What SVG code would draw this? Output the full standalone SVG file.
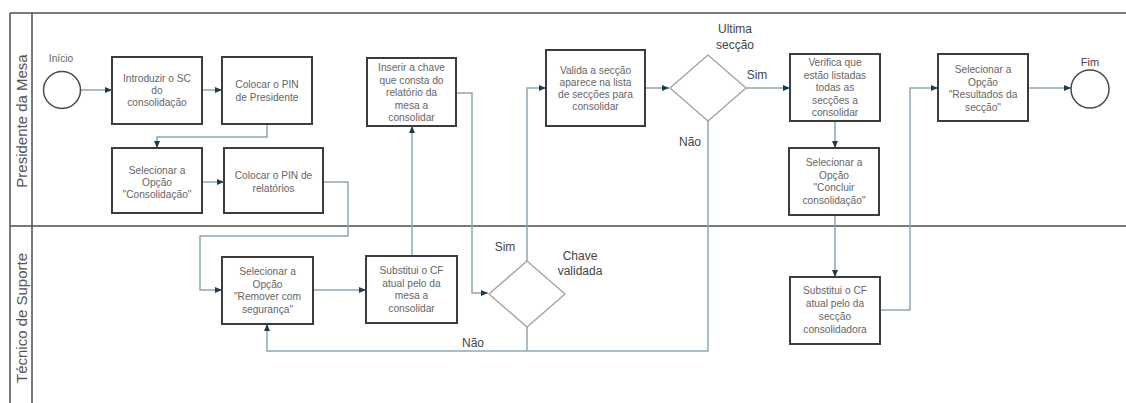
<svg xmlns="http://www.w3.org/2000/svg" width="1126" height="403" viewBox="0 0 1126 403">
  <style>
    .lane { stroke: #505050; stroke-width: 1.5; fill: none; }
    .lanelbl { font-family: "Liberation Sans", Arial, sans-serif; font-size: 15px; fill: #555; text-anchor: middle; }
    .task { fill: #fff; stroke: #3c3c3c; stroke-width: 2; }
    .gw { fill: #fff; stroke: #a8a8a8; stroke-width: 1.5; }
    .ev { fill: #fff; stroke: #4a4a4a; stroke-width: 1.5; }
    .tt { font-family: "Liberation Sans", Arial, sans-serif; font-size: 10.2px; fill: #666; text-anchor: middle; }
    .lbl { font-family: "Liberation Sans", Arial, sans-serif; font-size: 12px; fill: #444; text-anchor: middle; }
    .flow { fill: none; stroke: #8fa6b4; stroke-width: 1.5; }
  </style>
  <defs>
    <marker id="arr" markerUnits="userSpaceOnUse" markerWidth="8" markerHeight="8" refX="7" refY="3.5" orient="auto">
      <path d="M0,0.5 L7,3.5 L0,6.5 z" fill="#1d3b4f"/>
    </marker>
  </defs>

  <rect width="1126" height="403" fill="#fff"/>

  <!-- pool and lanes -->
  <g id="lanes">
    <path class="lane" d="M10,13 H1126 M10,13 V403 M32,13 V403 M10,226 H1126"/>
    <text class="lanelbl" transform="translate(27,121) rotate(-90)">Presidente da Mesa</text>
    <text class="lanelbl" transform="translate(27,318) rotate(-90)">Técnico de Suporte</text>
  </g>

  <!-- sequence flows -->
  <g id="connectors">
    <path class="flow" marker-end="url(#arr)" d="M80,90 H112"/>
    <path class="flow" marker-end="url(#arr)" d="M202,90 H222"/>
    <path class="flow" marker-end="url(#arr)" d="M267,124 V137 H157 V148"/>
    <path class="flow" marker-end="url(#arr)" d="M202,182 H224"/>
    <path class="flow" marker-end="url(#arr)" d="M323,182 H348 V236 H200 V290 H222"/>
    <path class="flow" marker-end="url(#arr)" d="M313,290 H366"/>
    <path class="flow" marker-end="url(#arr)" d="M412,256 V126"/>
    <path class="flow" marker-end="url(#arr)" d="M456,93 H472 V293 H488"/>
    <path class="flow" marker-end="url(#arr)" d="M527,261 V88 H546"/>
    <path class="flow" marker-end="url(#arr)" d="M645,88 H669"/>
    <path class="flow" marker-end="url(#arr)" d="M708,121 V351 H267 V324"/>
    <path class="flow" d="M527,327 V351"/>
    <path class="flow" marker-end="url(#arr)" d="M746,88 H790"/>
    <path class="flow" marker-end="url(#arr)" d="M835,121 V148"/>
    <path class="flow" marker-end="url(#arr)" d="M835,215 V277"/>
    <path class="flow" marker-end="url(#arr)" d="M880,310 H910 V88 H938"/>
    <path class="flow" marker-end="url(#arr)" d="M1028,88 H1071"/>
  </g>

  <g id="start">
    <circle class="ev" cx="62" cy="90" r="18.5"/>
    <text class="tt" x="61" y="62">Início</text>
  </g>

  <g id="t-introduzir">
    <rect class="task" x="112" y="57" width="90" height="67"/>
    <text class="tt"><tspan x="157" y="82">Introduzir o SC</tspan><tspan x="157" y="94">do</tspan><tspan x="157" y="106">consolidação</tspan></text>
  </g>

  <g id="t-pin-presidente">
    <rect class="task" x="222" y="57" width="90" height="67"/>
    <text class="tt"><tspan x="267" y="88">Colocar o PIN</tspan><tspan x="267" y="101">de Presidente</tspan></text>
  </g>

  <g id="t-consolidacao">
    <rect class="task" x="112" y="148" width="90" height="65"/>
    <text class="tt"><tspan x="157" y="174">Selecionar a</tspan><tspan x="157" y="186">Opção</tspan><tspan x="157" y="198">"Consolidação"</tspan></text>
  </g>

  <g id="t-pin-relatorios">
    <rect class="task" x="224" y="148" width="99" height="65"/>
    <text class="tt"><tspan x="273.5" y="179">Colocar o PIN de</tspan><tspan x="273.5" y="192">relatórios</tspan></text>
  </g>

  <g id="t-remover">
    <rect class="task" x="222" y="257" width="91" height="67"/>
    <text class="tt"><tspan x="267.5" y="275">Selecionar a</tspan><tspan x="267.5" y="287.5">Opção</tspan><tspan x="267.5" y="300">"Remover com</tspan><tspan x="267.5" y="312.5">segurança"</tspan></text>
  </g>

  <g id="t-substitui-mesa">
    <rect class="task" x="366" y="256" width="91" height="67"/>
    <text class="tt"><tspan x="411.5" y="274">Substitui o CF</tspan><tspan x="411.5" y="286.5">atual pelo da</tspan><tspan x="411.5" y="299">mesa a</tspan><tspan x="411.5" y="311.5">consolidar</tspan></text>
  </g>

  <g id="t-inserir-chave">
    <rect class="task" x="367" y="58" width="89" height="68"/>
    <text class="tt"><tspan x="411.5" y="71">Inserir a chave</tspan><tspan x="411.5" y="83.5">que consta do</tspan><tspan x="411.5" y="96">relatório da</tspan><tspan x="411.5" y="108.5">mesa a</tspan><tspan x="411.5" y="121">consolidar</tspan></text>
  </g>

  <g id="g-chave">
    <path class="gw" d="M527,261 L565,294 L527,327 L489,294 Z"/>
    <text class="lbl" x="505" y="251">Sim</text>
    <text class="lbl"><tspan x="580" y="260">Chave</tspan><tspan x="580" y="275">validada</tspan></text>
    <text class="lbl" x="473" y="347">Não</text>
  </g>

  <g id="t-valida">
    <rect class="task" x="546" y="50" width="99" height="76"/>
    <text class="tt"><tspan x="595.5" y="74">Valida a secção</tspan><tspan x="595.5" y="86">aparece na lista</tspan><tspan x="595.5" y="98">de secções para</tspan><tspan x="595.5" y="110">consolidar</tspan></text>
  </g>

  <g id="g-ultima">
    <path class="gw" d="M708,55 L746,88 L708,121 L670,88 Z"/>
    <text class="lbl"><tspan x="735" y="33">Ultima</tspan><tspan x="735" y="49">secção</tspan></text>
    <text class="lbl" x="757" y="79">Sim</text>
    <text class="lbl" x="690" y="146">Não</text>
  </g>

  <g id="t-verifica">
    <rect class="task" x="790" y="54" width="90" height="67"/>
    <text class="tt"><tspan x="835" y="66">Verifica que</tspan><tspan x="835" y="78.5">estão listadas</tspan><tspan x="835" y="91">todas as</tspan><tspan x="835" y="103.5">secções a</tspan><tspan x="835" y="116">consolidar</tspan></text>
  </g>

  <g id="t-concluir">
    <rect class="task" x="789" y="148" width="90" height="67"/>
    <text class="tt"><tspan x="834" y="166">Selecionar a</tspan><tspan x="834" y="178.5">Opção</tspan><tspan x="834" y="191">"Concluir</tspan><tspan x="834" y="203.5">consolidação"</tspan></text>
  </g>

  <g id="t-substitui-seccao">
    <rect class="task" x="790" y="277" width="90" height="67"/>
    <text class="tt"><tspan x="835" y="294">Substitui o CF</tspan><tspan x="835" y="307">atual pelo da</tspan><tspan x="835" y="320">secção</tspan><tspan x="835" y="332.5">consolidadora</tspan></text>
  </g>

  <g id="t-resultados">
    <rect class="task" x="938" y="54" width="90" height="67"/>
    <text class="tt"><tspan x="983" y="73">Selecionar a</tspan><tspan x="983" y="85.5">Opção</tspan><tspan x="983" y="98">"Resultados da</tspan><tspan x="983" y="110.5">secção"</tspan></text>
  </g>

  <g id="end">
    <circle class="ev" cx="1090" cy="89" r="19"/>
    <text class="lbl" x="1090" y="66" style="font-size:11px">Fim</text>
  </g>
</svg>
